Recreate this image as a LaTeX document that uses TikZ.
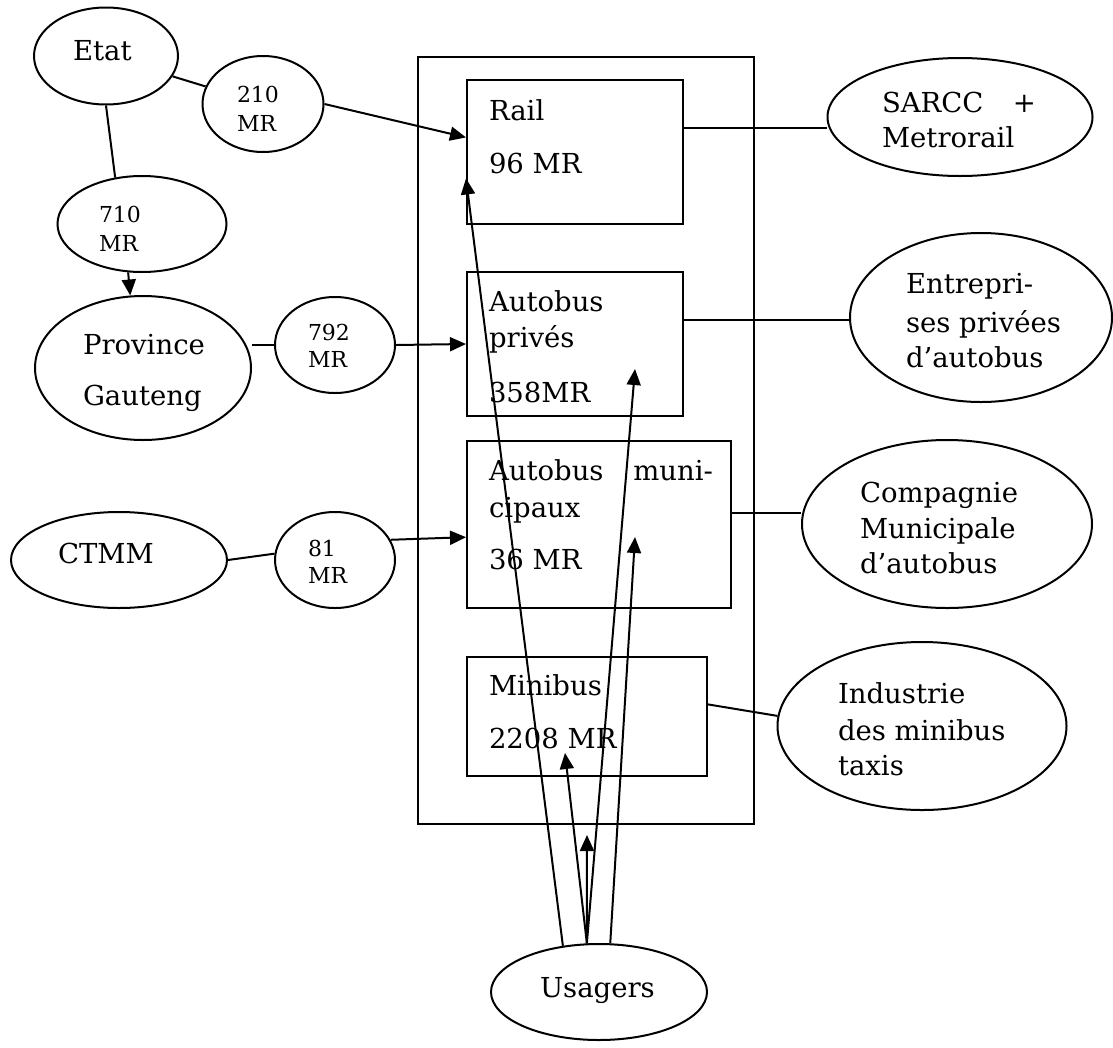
\documentclass[tikz,border=0pt]{standalone}
\usepackage{fontspec}
\setmainfont{DejaVu Serif}
\usetikzlibrary{shapes.geometric,arrows.meta,calc}
\begin{document}
\begin{tikzpicture}[x=1pt,y=-1pt,
  line width=2pt,
  ell/.style={draw,ellipse,inner sep=0pt},
  box/.style={draw,rectangle,inner sep=0pt},
  big/.style={font=\fontsize{27.5}{32}\selectfont, inner sep=0pt, anchor=base west},
  small/.style={font=\fontsize{22}{26}\selectfont, inner sep=0pt, anchor=base west},
  arr/.style={-{Triangle[length=16pt,width=14pt]}}
]
\useasboundingbox (0,0) rectangle (1113,1047);

% central frame and boxes
\node[box, minimum width=336pt, minimum height=767pt] (frame) at (586,440.5) {};
\node[box, minimum width=216pt, minimum height=144pt] (rail) at (575,152) {};
\node[box, minimum width=216pt, minimum height=144pt] (prive) at (575,344) {};
\node[box, minimum width=264pt, minimum height=167pt] (muni) at (599,524.5) {};
\node[box, minimum width=240pt, minimum height=119pt] (mini) at (587,716.5) {};

% ellipses
\node[ell, minimum width=144pt, minimum height=97pt] (etat) at (106,56) {};
\node[ell, minimum width=121pt, minimum height=96pt] (e210) at (263,104) {};
\node[ell, minimum width=169pt, minimum height=96pt] (e710) at (142,224) {};
\node[ell, minimum width=216pt, minimum height=144pt] (prov) at (143,368) {};
\node[ell, minimum width=120pt, minimum height=96pt] (e792) at (335,345) {};
\node[ell, minimum width=216pt, minimum height=96pt] (ctmm) at (119,560) {};
\node[ell, minimum width=120pt, minimum height=96pt] (e81) at (335,560) {};
\node[ell, minimum width=265pt, minimum height=118pt] (sarcc) at (960,117) {};
\node[ell, minimum width=262pt, minimum height=169pt] (entre) at (981,317.5) {};
\node[ell, minimum width=290pt, minimum height=168pt] (comp) at (947,524) {};
\node[ell, minimum width=289pt, minimum height=168pt] (indus) at (922,726) {};
\node[ell, minimum width=216pt, minimum height=96pt] (usag) at (599,992) {};

% texts
\node[big] (tEtat) at (72,60) {Etat};
\node[small] (t210a) at (236,102) {210};
\node[small] (t210b) at (236,131) {MR};
\node[small] (t710a) at (98,222) {710};
\node[small] (t710b) at (98,251) {MR};
\node[big] (tProvA) at (82,354) {Province};
\node[big] (tProvB) at (82,405) {Gauteng};
\node[small] (t792a) at (307,340) {792};
\node[small] (t792b) at (307,367) {MR};
\node[big] (tCtmm) at (57,563) {CTMM};
\node[small] (t81a) at (307,556) {81};
\node[small] (t81b) at (307,583) {MR};

\node[big] (tRailA) at (488,120) {Rail};
\node[big] (tRailB) at (488,173) {96 MR};
\node[big] (tPrivA) at (488,311) {Autobus};
\node[big] (tPrivB) at (488,347) {privés};
\node[big] (tPrivC) at (488,402) {358MR};
\node[big] (tMuniA) at (488,480) {\makebox[224pt][s]{Autobus muni-}};
\node[big] (tMuniB) at (488,517) {cipaux};
\node[big] (tMuniC) at (488,569) {36 MR};
\node[big] (tMiniA) at (488,695) {Minibus};
\node[big] (tMiniB) at (488,748) {2208 MR};

\node[big] (tSarA) at (881,112) {\makebox[154pt][s]{SARCC +}};
\node[big] (tSarB) at (881,147) {Metrorail};
\node[big] (tEntA) at (905,293) {Entrepri-};
\node[big] (tEntB) at (905,332) {ses privées};
\node[big] (tEntC) at (905,367) {d’autobus};
\node[big] (tCompA) at (859,502) {Compagnie};
\node[big] (tCompB) at (859,538) {Municipale};
\node[big] (tCompC) at (859,573) {d’autobus};
\node[big] (tIndA) at (837,703) {Industrie};
\node[big] (tIndB) at (837,740) {des minibus};
\node[big] (tIndC) at (837,775) {taxis};
\node[big] (tUsag) at (539,997) {Usagers};

% helper coordinates
\coordinate (railIn) at ($(rail.north west)!0.40!(rail.south west)$);
\coordinate (railUs) at ($(rail.north west)!0.681!(rail.south west)$);
\coordinate (muniIn) at ($(muni.north west)!0.575!(muni.south west)$);
\coordinate (railOut) at ($(rail.north east)!0.333!(rail.south east)$);
\coordinate (privOut) at ($(prive.north east)!0.333!(prive.south east)$);
\coordinate (muniOut) at ($(muni.north east)!0.43!(muni.south east)$);
\coordinate (miniOut) at ($(mini.north east)!0.40!(mini.south east)$);
\coordinate (tipMini) at (565,753);
\coordinate (tipFree) at (587,835);
\coordinate (tipPriv) at (635,369);
\coordinate (tipMuni) at (635,537);

% connectors, left side
\draw (etat) -- (e210);
\draw[arr] (e210.east) -- (railIn);
\draw (etat.south) -- (e710.120);
\draw[arr] (e710.254) -- (prov.100);
\draw (prov.east |- e792.west) -- (e792.west);
\draw[arr] (e792.east) -- (prive.west);
\draw (ctmm.east) -- (e81.174);
\draw[arr] (e81.20) -- (muniIn);

% connectors, right side
\draw (railOut) -- (railOut -| sarcc.west);
\draw (privOut) -- (privOut -| entre.west);
\draw (muniOut) -- (muniOut -| comp.west);
\draw (miniOut) -- (indus.176);

% users
\draw[arr] (usag.128.5) -- (railUs);
\draw[arr] (usag.104) -- (tipMini);
\draw[arr] (usag.104) -- (tipFree);
\draw[arr] (usag.104) -- (tipPriv);
\draw[arr] (usag.77) -- (tipMuni);
\end{tikzpicture}
\end{document}
